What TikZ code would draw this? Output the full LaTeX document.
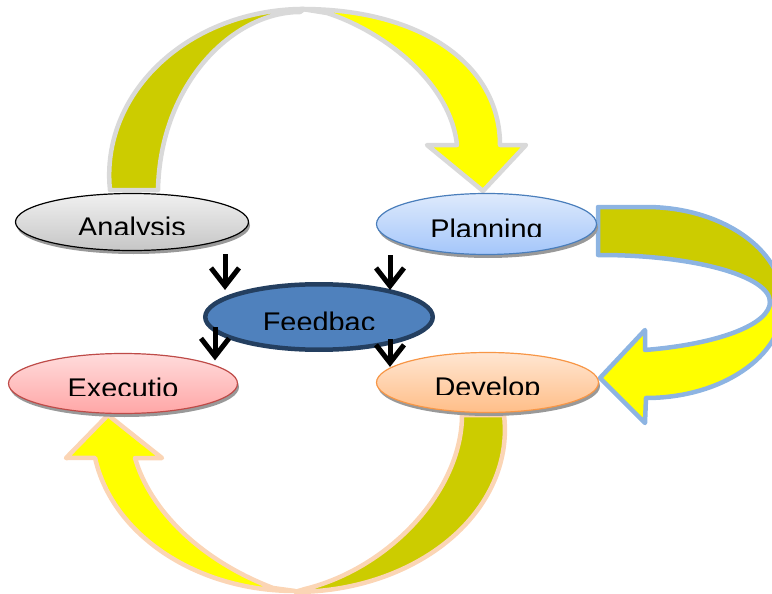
\documentclass[tikz,border=0pt]{standalone}
\usepackage{fontspec}
\newfontfamily\bubfont{Liberation Sans}
\usetikzlibrary{shapes.geometric,shadows,arrows.meta}
\definecolor{bandBack}{RGB}{204,204,0}
\definecolor{bandFront}{RGB}{255,255,0}
\definecolor{rimGray}{RGB}{217,217,217}
\definecolor{rimBlue}{RGB}{141,180,226}
\definecolor{rimPeach}{RGB}{251,213,181}
\definecolor{anaTop}{RGB}{240,240,240}
\definecolor{anaBot}{RGB}{198,198,198}
\definecolor{plaTop}{RGB}{222,234,252}
\definecolor{plaBot}{RGB}{164,198,250}
\definecolor{plaLine}{RGB}{74,126,187}
\definecolor{exeTop}{RGB}{255,220,220}
\definecolor{exeBot}{RGB}{255,166,166}
\definecolor{exeLine}{RGB}{190,75,72}
\definecolor{devTop}{RGB}{255,230,210}
\definecolor{devBot}{RGB}{255,190,136}
\definecolor{devLine}{RGB}{247,150,70}
\definecolor{feedFill}{RGB}{79,129,189}
\definecolor{feedLine}{RGB}{36,63,96}
\begin{document}
\begin{tikzpicture}[
        x=1pt, y=-1pt,
        bub/.style={ellipse, inner sep=0pt, line width=1.2pt,
            path picture={
                \clip ([yshift=-12pt]path picture bounding box.west) rectangle (path picture bounding box.north east);
                \node[anchor=base, inner sep=0pt, xscale=1.07, transform shape,
                    font=\bubfont\fontsize{27}{27}\selectfont]
                    at ([yshift=-14pt]path picture bounding box.center) {#1};
            }},
        shad/.style={drop shadow={shadow xshift=1.5pt, shadow yshift=-3.5pt, fill=black!40, opacity=1}},
        back/.style={fill=bandBack, line width=4.5pt, line join=round},
        front/.style={fill=bandFront, line width=4.5pt, line join=round},
        ar/.style={-{Straight Barb[length=18pt, width=28pt, line width=5pt]}, line width=5pt},
    ]

    \useasboundingbox (0,0) rectangle (772,594);
    \clip (0,0) rectangle (772,594);

    \draw[back, draw=rimGray] (110,190) arc[start angle=174.8, end angle=270, x radius=195, y radius=166]
        -- (300,12) .. controls (232,12) and (160,85) .. (158,190) -- cycle;
    \draw[front, draw=rimGray] (302,9) .. controls (422,9) and (500,65) .. (500,145)
        -- (526,145) -- (483,191) -- (427,145) -- (457,145)
        .. controls (450,80) and (380,30) .. (327,13) -- cycle;

    \draw[back, draw=rimBlue] (598,207) -- (646,207) arc[start angle=270, end angle=360, x radius=137, y radius=95]
        -- (770,302) arc[start angle=0, end angle=-90, x radius=170, y radius=47] -- (598,255) -- cycle;
    \draw[front, draw=rimBlue] (783,305) arc[start angle=0, end angle=90, x radius=137, y radius=93]
        -- (645,423) -- (600,378) -- (645,330) -- (645,350)
        arc[start angle=74.65, end angle=0, x radius=170, y radius=50] -- cycle;

    \draw[back, draw=rimPeach] (504,415) arc[start angle=-5.3, end angle=90, x radius=210, y radius=162]
        -- (305,589) .. controls (390,568) and (462,490) .. (462,415) -- cycle;
    \draw[front, draw=rimPeach] (295,591) arc[start angle=90, end angle=170, x radius=203, y radius=161]
        -- (66,458) -- (108,415) -- (162,458) -- (135,458)
        .. controls (150,510) and (200,560) .. (273,588) -- cycle;

    \node[bub=Analysis, shad, draw=black, top color=anaTop, bottom color=anaBot,
        minimum width=233pt, minimum height=57pt] (Analysis) at (132,222) {};
    \node[bub=Planning, shad, draw=plaLine, top color=plaTop, bottom color=plaBot,
        minimum width=220pt, minimum height=61pt] (Planning) at (486.5,224) {};
    \node[bub=Executio, shad, draw=exeLine, top color=exeTop, bottom color=exeBot,
        minimum width=229pt, minimum height=60pt] (Execution) at (123,383.5) {};
    \node[bub=Develop, shad, draw=devLine, top color=devTop, bottom color=devBot,
        minimum width=222pt, minimum height=60pt] (Develop) at (487.5,382.5) {};
    \node[bub=Feedbac, draw=feedLine, fill=feedFill, line width=4.5pt,
        minimum width=227.5pt, minimum height=65.5pt] (Feedback) at (319,317) {};

    \draw[ar] ([xshift=93pt, yshift=-3pt]Analysis.south) -- ([xshift=-94pt, yshift=-8pt]Feedback.north);
    \draw[ar] ([xshift=-96.5pt, yshift=0pt]Planning.south) -- ([xshift=71pt, yshift=-8pt]Feedback.north);
    \draw[ar] ([xshift=-104pt, yshift=25pt]Feedback.south) -- ([xshift=92pt, yshift=-7.5pt]Execution.north);
    \draw[ar] ([xshift=71pt, yshift=13pt]Feedback.south) -- ([xshift=-97.5pt, yshift=-15pt]Develop.north);
\end{tikzpicture}
\end{document}
